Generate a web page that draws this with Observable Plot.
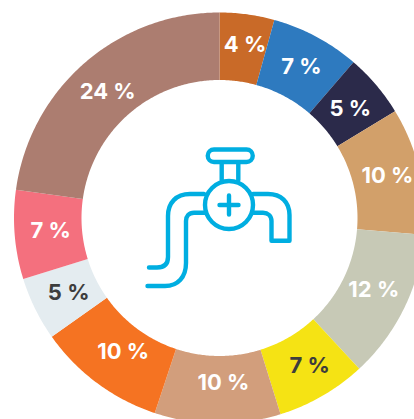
<!DOCTYPE html>
<html>
<head>
<meta charset="utf-8">
<script src="https://cdn.jsdelivr.net/npm/d3@7"></script>
<script src="https://cdn.jsdelivr.net/npm/@observablehq/plot@0.6"></script>
<style>html,body{margin:0;padding:0;background:#fff;overflow:hidden}svg{display:block}</style>
</head>
<body>
<div id="chart"></div>
<script>
const labels = ["4 %","7 %","5 %","10 %","12 %","7 %","10 %","10 %","5 %","7 %","24 %"];
const shares = [4.3,7.0,5.0,10.0,11.8,7.1,9.9,10.1,5.0,7.0,22.8];
const colors = ["#C96A28","#2E7ABF","#2B2A4A","#D2A06A","#C7C9B6","#F5E314","#D29E7C","#F57322","#E4ECF0","#F4707E","#AC7D70"];
const darkLabels = ["#3D3D3D"];
const textColors = colors.map((c,i)=> (i===5||i===8) ? darkLabels[0] : "#fff");

const W = 414, H = 419, cx = 219.5, cy = 218, outer = 205.5, inner = 138, labelR = 171;
const nudges = [[2,-4],[1,-1],[0,1],[1,-3],[0,-3],[4,-1],[5,-7],[5,-4],[2,-1],[1,-1],[0,2]];
const total = d3.sum(shares);
const wedges = [], texts = [];
let cum = 0;
shares.forEach((v,i)=>{
  const a0 = cum/total*2*Math.PI, a1 = (cum+v)/total*2*Math.PI;
  const n = Math.ceil((a1-a0)/0.01);
  for(let k=0;k<=n;k++){
    const a = a0+(a1-a0)*k/n;
    wedges.push({i,x1:outer*Math.sin(a),y1:outer*Math.cos(a),x2:inner*Math.sin(a),y2:inner*Math.cos(a)});
  }
  const m = (a0+a1)/2;
  texts.push({i,label:labels[i],x:labelR*Math.sin(m),y:labelR*Math.cos(m),c:textColors[i]});
  cum += v;
});

function icon(){
  const g = d3.create("svg:g").attr("fill","none").attr("stroke","#00AEE1").attr("stroke-width",4.4)
    .attr("stroke-linecap","round").attr("stroke-linejoin","round");
  const paths = [
    "M214 149.5H246.5A6.2 6.2 0 0 1 246.5 162H214A6.2 6.2 0 0 1 214 149.5Z",
    "M221.7 163V180M238.3 163V180",
    "M219.5 205H238.5M229 195.5V214.5",
    "M204 194H190C176 194 168 203 168 216V257C168 264 164 267.5 157 267.5H149",
    "M205 212.7H194C189 212.7 186 216 186 221V263C186 277 178 286 165 286H147.5",
    "M253 194H268C281 194 289.5 202 289.5 215V240.7H271.5V221C271.5 216 268 212.7 263 212.7H253"
  ];
  paths.forEach(d=>g.append("path").attr("d",d));
  g.append("circle").attr("cx",229).attr("cy",205).attr("r",24);
  return g.node();
}

const plot = Plot.plot({
  width: W, height: H,
  marginTop:0, marginRight:0, marginBottom:0, marginLeft:0,
  x:{domain:[-cx,W-cx],range:[0,W],axis:null},
  y:{domain:[cy-H,cy],range:[H,0],axis:null},
  color:{domain:d3.range(shares.length),range:colors,type:"ordinal"},
  style:{background:"#fff"},
  marks:[
    Plot.area(wedges,{x1:"x1",y1:"y1",x2:"x2",y2:"y2",z:"i",fill:"i"}),
    ...texts.map((t,i)=>Plot.text([t],{x:"x",y:"y",text:"label",fill:t.c,dx:nudges[i][0],dy:nudges[i][1],fontFamily:"Inter",fontWeight:700,fontSize:22})),
    icon
  ]
});
document.getElementById("chart").append(plot);
</script>
</body>
</html>
